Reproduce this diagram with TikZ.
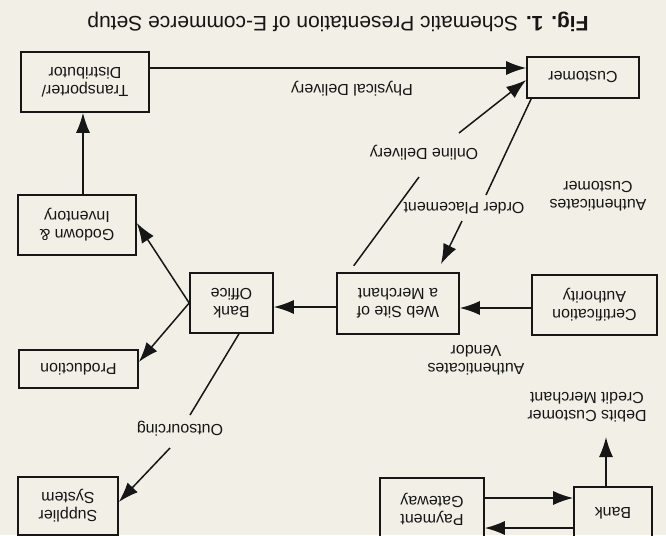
\documentclass[tikz,border=0pt]{standalone}
\usepackage{fontspec}
\setmainfont{Liberation Sans}
\usetikzlibrary{arrows.meta}
\definecolor{paper}{RGB}{241,239,230}
\definecolor{ink}{RGB}{22,22,22}
\begin{document}
\begin{tikzpicture}[x=1pt,y=1pt,rotate=180,
  every node/.append style={transform shape},
  box/.style={draw=ink,line width=1.6pt,inner sep=2pt,align=center,font=\fontsize{16}{18}\selectfont,text=ink},
  lbl/.style={align=center,font=\fontsize{16}{18}\selectfont,text=ink},
  arr/.style={draw=ink,line width=1.5pt,-{Latex[length=20pt,width=14pt]}},
  ln/.style={draw=ink,line width=1.5pt}]
\fill[paper] (0,0) rectangle (666,535);
\useasboundingbox (0,0) rectangle (666,535);
% boxes
\node[box,minimum width=128,minimum height=60] (trans) at (581,82) {Transporter/\\Distributor};
\node[box,minimum width=112,minimum height=41] (cust) at (83,77.5) {Customer};
\node[box,minimum width=118,minimum height=60] (godown) at (589,225) {Godown \&\\Inventory};
\node[box,minimum width=83,minimum height=60] (bankoff) at (434.5,303) {Bank\\Office};
\node[box,minimum width=122,minimum height=61] (web) at (268,303.5) {Web Site of\\a Merchant};
\node[box,minimum width=125,minimum height=60] (cert) at (71.5,305) {Certification\\Authority};
\node[box,minimum width=119,minimum height=38] (prod) at (587.5,369) {Production};
\node[box,minimum width=100,minimum height=58] (supp) at (598,506) {Supplier\\System};
\node[box,minimum width=104,minimum height=62] (pay) at (234,509) {Payment\\Gateway};
\node[box,minimum width=78,minimum height=52] (bank) at (53,513) {Bank};
% helper coordinates
\coordinate (pl) at (0,68);
\coordinate (odS) at (317,0);
\coordinate (odA) at (247,177);
\coordinate (odB) at (207,133);
\coordinate (opA) at (180,195);
\coordinate (opB) at (204,221);
\coordinate (opS) at (229,0);
\coordinate (cw) at (0,308);
\coordinate (wb) at (0,307);
\coordinate (gx) at (583,0);
\coordinate (osS) at (427,0);
\coordinate (osA) at (476,415);
\coordinate (osB) at (496,448);
\coordinate (bx) at (60,0);
\coordinate (dc) at (60,437);
\coordinate (pb) at (0,498);
\coordinate (bp) at (0,528);
% connectors
\draw[arr] (trans.west |- pl) -- (cust.east |- pl);
\draw[ln,shorten <=8pt] (web.south -| odS) -- (odA);
\draw[arr] (odB) -- ([yshift=2.5pt]cust.east);
\draw[ln] ([xshift=-5pt]cust.north east) -- (opA);
\draw[arr,shorten >=9pt] (opB) -- (web.south -| opS);
\draw[arr] (cert.east |- cw) -- (web.west |- cw);
\draw[arr] (web.east |- wb) -- (bankoff.west |- wb);
\draw[arr] (bankoff.east) -- ([yshift=-2pt]godown.west);
\draw[arr] (bankoff.east) -- ([yshift=-7pt]prod.west);
\draw[arr] (godown.south -| gx) -- (trans.north -| gx);
\draw[ln] (bankoff.north -| osS) -- (osA);
\draw[arr] (osB) -- ([yshift=-4pt]supp.west);
\draw[arr] (bank.south -| bx) -- (dc);
\draw[arr] (pay.west |- pb) -- (bank.east |- pb);
\draw[arr] (bank.east |- bp) -- (pay.west |- bp);
% labels
\node[lbl] (lphys) at (314,89) {Physical Delivery};
\node[lbl] (lonl) at (242,153) {Online Delivery};
\node[lbl] (lord) at (202,208) {Order Placement};
\node[lbl] (lac) at (68,196) {Authenticates\\Customer};
\node[lbl] (lav) at (190,360) {Authenticates\\Vendor};
\node[lbl] (lout) at (486,429) {Outsourcing};
\node[lbl] (ldc) at (79,407) {Debits Customer\\Credit Merchant};
\node[font=\fontsize{21}{25}\selectfont,text=ink] (title) at (328,22) {\textbf{Fig. 1.} Schematic Presentation of E-commerce Setup};
\end{tikzpicture}
\end{document}
